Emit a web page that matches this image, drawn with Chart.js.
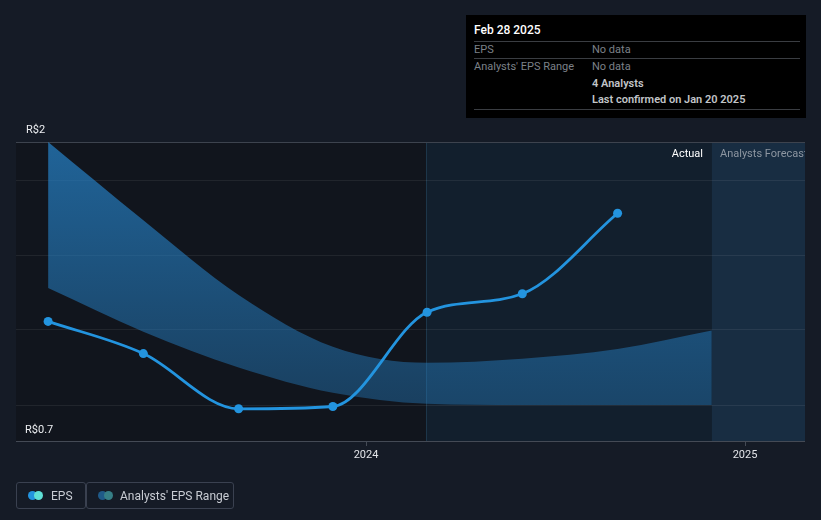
<!DOCTYPE html>
<html>
<head>
<meta charset="utf-8">
<script src="https://cdn.jsdelivr.net/npm/chart.js@4.4.1/dist/chart.umd.min.js"></script>
<style>
  html, body { margin: 0; padding: 0; background: #151b26; width: 821px; height: 520px; overflow: hidden; font-family: Roboto, "Noto Sans", sans-serif; }
  #wrap { position: absolute; left: 0; top: 0; width: 821px; height: 520px; }
  canvas { position: absolute; left: 0; top: 0; }
  .tip { position: absolute; left: 466px; top: 15px; width: 340px; height: 103px; background: #000; box-sizing: border-box; padding: 0 7px; }
  .tip .t { position: absolute; left: 8px; top: 8px; color: #fff; font-size: 12px; font-weight: 500; }
  .tip .sep { position: absolute; left: 8px; right: 6px; height: 1px; background: #3a3d42; }
  .tip .r { position: absolute; font-size: 11px; color: #7c8188; }
  .tip .r.b { color: #c2c5c9; font-weight: 600; }
  .leg { position: absolute; top: 482px; height: 27px; border: 1px solid #3a4150; border-radius: 3px; box-sizing: border-box; color: #c8ccd3; font-size: 12px; }
  .leg span.txt { position: absolute; top: 6px; }
  .dot { position: absolute; top: 8px; width: 9px; height: 9px; border-radius: 50%; }
  .lbl { position: absolute; font-size: 11px; white-space: nowrap; }
</style>
</head>
<body>
<div id="wrap">
  <canvas id="c" width="821" height="520"></canvas>
  <div class="lbl" style="left:0; width:703px; text-align:right; top:147px; color:#ffffff;">Actual</div>
  <div class="lbl" style="left:720px; width:85px; overflow:hidden; top:147px; color:#8d96a1;">Analysts Forecasts</div>
  <div class="tip">
    <div class="t">Feb 28 2025</div>
    <div class="sep" style="top:26px"></div>
    <div class="r" style="left:8px; top:28px">EPS</div>
    <div class="r" style="left:126px; top:28px">No data</div>
    <div class="sep" style="top:43px"></div>
    <div class="r" style="left:8px; top:45px">Analysts' EPS Range</div>
    <div class="r" style="left:126px; top:45px">No data</div>
    <div class="r b" style="left:126px; top:62px">4 Analysts</div>
    <div class="r b" style="left:126px; top:78px">Last confirmed on Jan 20 2025</div>
    <div class="sep" style="top:94px"></div>
  </div>
  <div class="leg" style="left:16px; width:70px;">
    <div class="dot" style="left:11px; background:#2394df;"></div>
    <div class="dot" style="left:17px; background:#5fe0d6;"></div>
    <span class="txt" style="left:34px;">EPS</span>
  </div>
  <div class="leg" style="left:86px; width:148px;">
    <div class="dot" style="left:11px; background:#1f5a88;"></div>
    <div class="dot" style="left:17px; background:#367f86;"></div>
    <span class="txt" style="left:33px;">Analysts' EPS Range</span>
  </div>
</div>
<script>
// ---- data ----
const epsDates   = ['2023-02-28','2023-05-31','2023-08-31','2023-11-30','2024-02-29','2024-05-31','2024-08-31'];
const epsValues  = [1.22, 1.08, 0.84, 0.85, 1.26, 1.34, 1.69];
const rangeDates = ['2023-02-28','2023-05-31','2023-08-31','2023-11-30','2024-02-29','2024-05-31','2024-08-31','2024-11-30'];
const rangeHigh  = [2.00, 1.66, 1.335, 1.11, 1.04, 1.058, 1.10, 1.18];
const rangeLow   = [1.365, 1.175, 1.02, 0.91, 0.862, 0.857, 0.857, 0.857];
const gridValues = [0.857, 1.187, 1.509, 1.835];
const yMin = 0.7, yMax = 2.0;
const yTickLabels = ['R$2', 'R$0.7'];
const xTickDates  = ['2024-01-01', '2025-01-01'];
const xTickLabels = ['2024', '2025'];
const xMinDate = '2023-01-28', xMaxDate = '2025-02-28';
const pastEndDate = '2024-02-28';
const forecastStartDate = '2024-11-30';

const t = s => Date.parse(s + 'T00:00:00Z');
const pts = (ds, vs) => ds.map((d, i) => ({ x: t(d), y: vs[i] }));

const bgPlugin = {
  id: 'bg',
  beforeDatasetsDraw(chart) {
    const { ctx, chartArea: a, scales: { x, y } } = chart;
    const xp = x.getPixelForValue(t(pastEndDate));
    const xf = x.getPixelForValue(t(forecastStartDate));
    ctx.save();
    ctx.fillStyle = '#11151d';
    ctx.fillRect(a.left, a.top, xp - a.left, a.bottom - a.top);
    ctx.fillStyle = '#121f2d';
    ctx.fillRect(xp, a.top, xf - xp, a.bottom - a.top);
    ctx.fillStyle = '#182d42';
    ctx.fillRect(xf, a.top, a.right - xf, a.bottom - a.top);
    // vertical marker
    ctx.fillStyle = 'rgba(40,75,100,0.55)';
    ctx.fillRect(Math.round(xp), a.top, 1, a.bottom - a.top);
    // gridlines
    ctx.fillStyle = 'rgba(255,255,255,0.07)';
    gridValues.forEach(v => {
      const py = Math.round(y.getPixelForValue(v));
      ctx.fillRect(a.left, py, a.right - a.left, 1);
    });
    ctx.fillStyle = '#3d434e';
    ctx.fillRect(a.left, Math.round(y.getPixelForValue(yMax)), a.right - a.left, 1);
    ctx.fillStyle = '#444a55';
    ctx.fillRect(a.left, Math.round(a.bottom), a.right - a.left, 1);
    // x ticks
    ctx.font = '11px Roboto, "Noto Sans", sans-serif';
    ctx.textAlign = 'center';
    ctx.textBaseline = 'middle';
    xTickDates.forEach((d, i) => {
      const px = Math.round(x.getPixelForValue(t(d)));
      ctx.fillStyle = '#444a55';
      ctx.fillRect(px, a.bottom, 1, 5);
      ctx.fillStyle = '#e2e4e8';
      ctx.fillText(xTickLabels[i], px, a.bottom + 14);
    });
    // y labels
    ctx.textAlign = 'left';
    ctx.fillStyle = '#eceef1';
    ctx.fillText(yTickLabels[0], 26, y.getPixelForValue(yMax) - 12);
    ctx.fillText(yTickLabels[1], 25, y.getPixelForValue(yMin) - 11);
    ctx.restore();
  }
};

function bandFill(context) {
  const chart = context.chart;
  const a = chart.chartArea;
  if (!a) return 'rgba(35,125,195,0.5)';
  const g = chart.ctx.createLinearGradient(0, a.top, 0, a.bottom);
  g.addColorStop(0, 'rgba(38,130,200,0.72)');
  g.addColorStop(0.85, 'rgba(38,130,200,0.40)');
  g.addColorStop(1, 'rgba(38,130,200,0.36)');
  return g;
}

new Chart(document.getElementById('c'), {
  type: 'line',
  data: {
    datasets: [
      {
        label: 'EPS',
        data: pts(epsDates, epsValues),
        borderColor: '#2394df',
        backgroundColor: '#2394df',
        borderWidth: 2.8,
        pointRadius: 4.5,
        pointBackgroundColor: '#2394df',
        pointBorderWidth: 0,
        cubicInterpolationMode: 'monotone',
        fill: false,
        order: 0
      },
      {
        label: 'High',
        data: pts(rangeDates, rangeHigh),
        borderWidth: 0,
        borderColor: 'rgba(0,0,0,0)',
        pointRadius: 0,
        backgroundColor: bandFill,
        cubicInterpolationMode: 'monotone',
        fill: '+1',
        order: 1
      },
      {
        label: 'Low',
        data: pts(rangeDates, rangeLow),
        borderWidth: 0,
        borderColor: 'rgba(0,0,0,0)',
        pointRadius: 0,
        backgroundColor: 'rgba(0,0,0,0)',
        cubicInterpolationMode: 'monotone',
        fill: false,
        order: 2
      }
    ]
  },
  options: {
    responsive: false,
    animation: false,
    devicePixelRatio: 1,
    layout: { padding: { left: 16, right: 16, top: 142, bottom: 79 } },
    plugins: { legend: { display: false }, tooltip: { enabled: false } },
    scales: {
      x: { type: 'linear', display: false, min: t(xMinDate), max: t(xMaxDate) },
      y: { type: 'linear', display: false, min: yMin, max: yMax }
    }
  },
  plugins: [bgPlugin]
});
</script>
</body>
</html>
